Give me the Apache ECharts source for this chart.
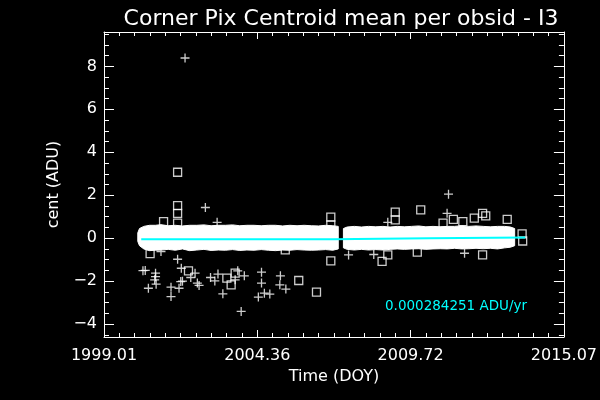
<!DOCTYPE html>
<html>
<head>
<meta charset="utf-8">
<script src="https://cdn.jsdelivr.net/npm/echarts@6/dist/echarts.min.js"></script>
<style>
html,body{margin:0;padding:0;background:#000;}
#chart{width:600px;height:400px;}
</style>
</head>
<body>
<div id="chart"></div>
<script>
// ---- data ----
const titleText = 'Corner Pix Centroid mean per obsid - I3';
const xName = 'Time (DOY)';
const yName = 'cent (ADU)';
const slopeText = '0.000284251 ADU/yr';

const xMin = 1999.01, xMax = 2015.07;
const yMin = -4.6, yMax = 9.6;
const xTickLabels = ['1999.01', '2004.36', '2009.72', '2015.07'];
const yTickLabels = [-4, -2, 0, 2, 4, 6, 8];

// dense band of per-obsid means (upper / lower envelope), two segments
const band1Years = [2000.19, 2000.25, 2000.4, 2000.6, 2000.8, 2001.0, 2001.25, 2001.5, 2001.75, 2002.0, 2002.25, 2002.5, 2002.75, 2003.0, 2003.25, 2003.5, 2003.75, 2004.0, 2004.25, 2004.5, 2004.75, 2005.0, 2005.25, 2005.5, 2005.75, 2006.0, 2006.25, 2006.5, 2006.75, 2007.0, 2007.19];
const band1Upper = [0.25, 0.45, 0.55, 0.60, 0.60, 0.63, 0.58, 0.60, 0.57, 0.60, 0.60, 0.62, 0.58, 0.60, 0.60, 0.62, 0.58, 0.60, 0.60, 0.58, 0.60, 0.60, 0.57, 0.60, 0.58, 0.60, 0.58, 0.57, 0.60, 0.58, 0.55];
const band1Lower = [-0.15, -0.35, -0.50, -0.58, -0.56, -0.55, -0.52, -0.56, -0.50, -0.58, -0.55, -0.52, -0.57, -0.55, -0.56, -0.53, -0.57, -0.55, -0.56, -0.53, -0.56, -0.58, -0.55, -0.56, -0.53, -0.55, -0.56, -0.55, -0.53, -0.56, -0.50];
const band2Years = [2007.37, 2007.5, 2007.75, 2008.0, 2008.25, 2008.5, 2008.75, 2009.0, 2009.25, 2009.5, 2009.75, 2010.0, 2010.25, 2010.5, 2010.75, 2011.0, 2011.25, 2011.5, 2011.75, 2012.0, 2012.25, 2012.5, 2012.75, 2013.0, 2013.2, 2013.35];
const band2Upper = [0.45, 0.52, 0.55, 0.52, 0.55, 0.53, 0.55, 0.52, 0.55, 0.53, 0.55, 0.57, 0.53, 0.55, 0.53, 0.55, 0.55, 0.58, 0.55, 0.57, 0.55, 0.53, 0.55, 0.55, 0.52, 0.45];
const band2Lower = [-0.45, -0.52, -0.55, -0.52, -0.55, -0.53, -0.55, -0.52, -0.50, -0.52, -0.50, -0.49, -0.52, -0.50, -0.49, -0.50, -0.47, -0.50, -0.49, -0.47, -0.49, -0.47, -0.50, -0.45, -0.42, -0.35];

// outliers drawn with square symbols
const sqYears = [2001.58, 2001.58, 2001.58, 2001.58, 2001.09, 2006.93, 2006.93, 2006.93, 2009.18, 2009.18, 2010.07, 2011.21, 2011.94, 2012.23, 2012.34, 2013.09, 2011.54, 2010.85, 2013.61, 2013.63, 2008.72, 2008.92, 2005.34, 2009.95, 2012.23, 2001.96, 2003.30, 2003.59, 2005.81, 2006.43, 2003.45, 2000.62];
const sqVals  = [3.07, 1.52, 1.16, 0.70, 0.77, 0.98, 0.62, -1.06, 1.21, 0.85, 1.32, 0.88, 0.93, 1.16, 1.04, 0.88, 0.77, 0.70, 0.20, -0.13, -1.08, -0.78, -0.54, -0.65, -0.78, -1.52, -1.86, -1.63, -1.97, -2.51, -2.17, -0.72];

// outliers drawn with plus symbols
const crossYears = [2001.84, 2002.55, 2002.96, 2008.92, 2011.04, 2010.99, 2007.55, 2008.43, 2011.60, 2000.37, 2000.45, 2000.81, 2000.81, 2000.78, 2000.56, 2000.83, 2001.58, 2001.71, 2001.35, 2001.35, 2001.63, 2001.69, 2001.75, 2002.19, 2002.04, 2002.27, 2002.33, 2002.73, 2002.88, 2002.99, 2003.16, 2003.68, 2003.59, 2003.91, 2003.80, 2004.51, 2004.51, 2004.40, 2004.61, 2004.80, 2005.17, 2005.15, 2005.36, 2001.00];
const crossVals  = [8.39, 1.43, 0.74, 0.74, 2.05, 1.16, -0.78, -0.76, -0.70, -1.51, -1.50, -1.63, -1.79, -1.94, -2.33, -2.14, -0.98, -1.40, -2.28, -2.72, -2.33, -2.02, -2.00, -1.63, -1.83, -2.09, -2.20, -1.83, -1.99, -1.67, -2.59, -1.52, -1.94, -1.75, -3.41, -1.58, -2.09, -2.74, -2.56, -2.60, -1.75, -2.17, -2.37, -0.62];

// cyan trend fit
const fitYears = [2000.31, 2007.0, 2007.0, 2010.34, 2010.34, 2013.72];
const fitVals  = [-0.05, -0.05, 0.0, 0.0, 0.03, 0.03];

// ---- build options ----
const FONT = 'DejaVu Sans';
const xMajorVals = xTickLabels.map((_, i) => xMin + i * (xMax - xMin) / (xTickLabels.length - 1));
const xMinorVals = [];
for (let i = 0; i <= 30; i++) xMinorVals.push(xMin + i * (xMax - xMin) / 30);
const yMinorVals = [];
for (let v = -4.5; v <= 9.5 + 1e-9; v += 0.5) yMinorVals.push(+v.toFixed(2));

function fmtNum(v) { return (v < 0 ? '\u2212' : '') + Math.abs(v); }

function xAxisDef(pos, major, labels) {
  return {
    type: 'value', min: xMin, max: xMax, position: pos,
    axisLine: { show: major, onZero: false, lineStyle: { color: '#fff', width: 1 } },
    axisTick: { show: true, inside: true, length: major ? 7 : 4, customValues: major ? xMajorVals : xMinorVals,
      lineStyle: { color: '#fff', width: 1 } },
    axisLabel: { show: labels, customValues: xMajorVals, color: '#fff', fontFamily: FONT, fontSize: 16, margin: 11,
      formatter: function (v) { const i = xMajorVals.findIndex(m => Math.abs(m - v) < 1e-6); return i >= 0 ? xTickLabels[i] : ''; } },
    splitLine: { show: false },
    name: labels ? xName : '', nameLocation: 'middle', nameGap: 32,
    nameTextStyle: { color: '#fff', fontFamily: FONT, fontSize: 16 }
  };
}
function yAxisDef(pos, major, labels) {
  return {
    type: 'value', min: yMin, max: yMax, position: pos,
    axisLine: { show: major, onZero: false, lineStyle: { color: '#fff', width: 1 } },
    axisTick: { show: true, inside: true, length: major ? 10 : 5, customValues: major ? yTickLabels : yMinorVals,
      lineStyle: { color: '#fff', width: 1 } },
    axisLabel: { show: labels, customValues: yTickLabels, color: '#fff', fontFamily: FONT, fontSize: 16, margin: 7,
      formatter: fmtNum },
    splitLine: { show: false },
    name: labels ? yName : '', nameLocation: 'middle', nameGap: 42, nameRotate: 90,
    nameTextStyle: { color: '#fff', fontFamily: FONT, fontSize: 16 }
  };
}

function bandSeries(years, upper, lower) {
  return {
    type: 'custom', xAxisIndex: 0, yAxisIndex: 0, silent: true, z: 1,
    data: years.map((y, i) => [y, upper[i], lower[i]]),
    renderItem: function (params, api) {
      if (params.dataIndex !== 0) return null;
      const pts = [];
      for (let i = 0; i < years.length; i++) pts.push(api.coord([years[i], upper[i]]));
      for (let i = years.length - 1; i >= 0; i--) pts.push(api.coord([years[i], lower[i]]));
      return { type: 'polygon', shape: { points: pts }, style: { fill: '#fff', stroke: '#fff', lineWidth: 1 } };
    }
  };
}

const option = {
  backgroundColor: '#000',
  animation: false,
  title: { text: titleText, left: 336, textAlign: 'center', top: 3,
    textStyle: { color: '#fff', fontFamily: FONT, fontSize: 22, fontWeight: 'normal' } },
  grid: { left: 104, right: 30, top: 32, bottom: 63, containLabel: false },
  xAxis: [xAxisDef('bottom', true, true), xAxisDef('bottom', false, false), xAxisDef('top', true, false), xAxisDef('top', false, false)],
  yAxis: [yAxisDef('left', true, true), yAxisDef('left', false, false), yAxisDef('right', true, false), yAxisDef('right', false, false)],
  series: [
    bandSeries(band1Years, band1Upper, band1Lower),
    bandSeries(band2Years, band2Upper, band2Lower),
    {
      type: 'scatter', silent: true, z: 3,
      symbol: 'rect', symbolSize: 8,
      itemStyle: { color: 'rgba(0,0,0,0)', borderColor: '#fff', borderWidth: 1.3 },
      data: sqYears.map((y, i) => [y, sqVals[i]])
    },
    {
      type: 'scatter', silent: true, z: 3,
      symbol: 'path://M0,5L10,5M5,0L5,10', symbolSize: 9,
      itemStyle: { color: 'rgba(0,0,0,0)', borderColor: '#fff', borderWidth: 1.3 },
      data: crossYears.map((y, i) => [y, crossVals[i]])
    },
    {
      type: 'line', silent: true, z: 4, symbol: 'none',
      lineStyle: { color: '#00ffff', width: 2 },
      data: fitYears.map((y, i) => [y, fitVals[i]])
    }
  ],
  graphic: [{
    type: 'text', left: 385, top: 299, silent: true,
    style: { text: slopeText, fill: '#00ffff', font: '13.5px "DejaVu Sans"' }
  }]
};

const chart = echarts.init(document.getElementById('chart'), null, { renderer: 'canvas' });
chart.setOption(option);
</script>
</body>
</html>
